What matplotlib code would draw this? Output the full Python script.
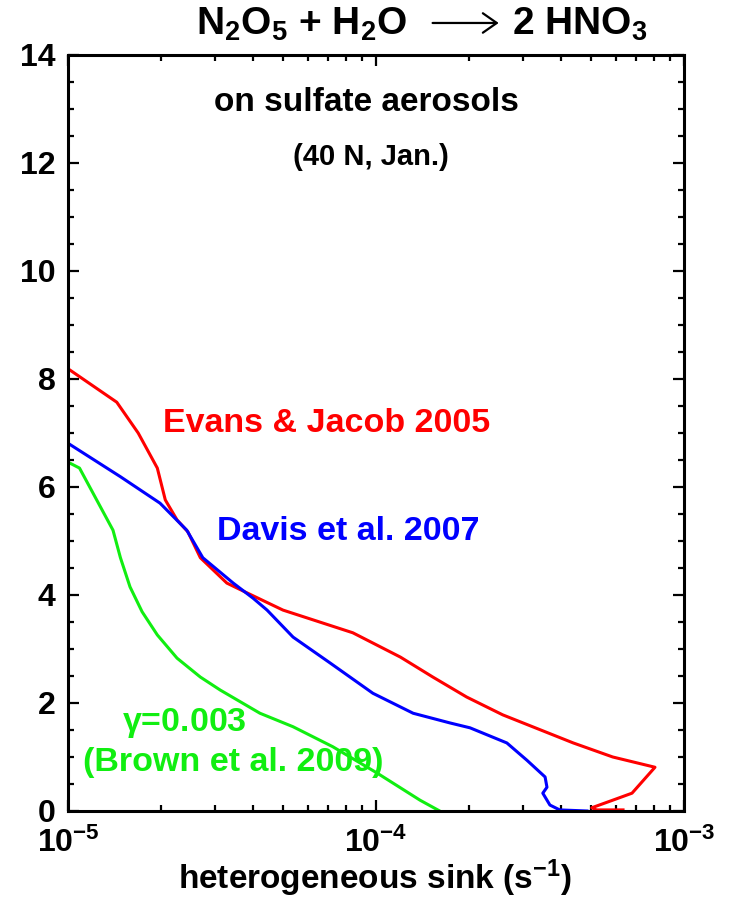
import matplotlib
matplotlib.use("Agg")
import matplotlib.pyplot as plt
from matplotlib.patches import FancyArrowPatch
from matplotlib.ticker import LogLocator, MultipleLocator, NullFormatter

plt.rcParams['font.family'] = ['Liberation Sans', 'DejaVu Sans']
plt.rcParams['font.weight'] = 'bold'
plt.rcParams['mathtext.fontset'] = 'custom'
plt.rcParams['mathtext.rm'] = 'Liberation Sans:bold'
plt.rcParams['mathtext.it'] = 'Liberation Sans:bold'
plt.rcParams['mathtext.bf'] = 'Liberation Sans:bold'

# heterogeneous sink (s-1) vs altitude (km)
evans_sink = [1.0e-5, 1.44e-5, 1.69e-5, 1.95e-5, 2.07e-5, 2.26e-5, 2.45e-5, 2.69e-5,
              3.28e-5, 3.81e-5, 4.99e-5, 8.41e-5, 1.20e-4, 1.53e-4, 1.97e-4, 2.58e-4,
              4.37e-4, 5.87e-4, 8.05e-4, 6.78e-4, 5.87e-4, 5.02e-4, 5.2e-4, 6.34e-4]
evans_alt = [8.19, 7.57, 7.00, 6.35, 5.76, 5.39, 5.17, 4.69,
             4.22, 4.04, 3.72, 3.30, 2.85, 2.48, 2.11, 1.78,
             1.26, 1.00, 0.81, 0.33, 0.20, 0.06, 0.02, 0.02]

davis_sink = [1.0e-5, 1.48e-5, 1.99e-5, 2.43e-5, 2.74e-5, 3.44e-5, 3.99e-5, 4.43e-5,
              5.38e-5, 7.10e-5, 9.77e-5, 1.32e-4, 1.74e-4, 2.02e-4, 2.66e-4, 3.09e-4,
              3.54e-4, 3.59e-4, 3.48e-4, 3.67e-4, 3.95e-4, 4.84e-4]
davis_alt = [6.81, 6.19, 5.70, 5.20, 4.69, 4.22, 3.94, 3.72,
             3.22, 2.74, 2.18, 1.81, 1.63, 1.54, 1.26, 0.94,
             0.63, 0.44, 0.33, 0.11, 0.02, 0.0]

brown_sink = [1.0e-5, 1.09e-5, 1.40e-5, 1.48e-5, 1.59e-5, 1.74e-5, 1.95e-5, 2.26e-5,
              2.69e-5, 3.12e-5, 4.20e-5, 5.38e-5, 7.24e-5, 1.01e-4, 1.39e-4, 1.61e-4]
brown_alt = [6.46, 6.35, 5.20, 4.69, 4.15, 3.69, 3.26, 2.83,
             2.48, 2.24, 1.81, 1.56, 1.19, 0.70, 0.20, 0.0]

xticks = [1e-5, 1e-4, 1e-3]
xticklabels = [r'$10^{-5}$', r'$10^{-4}$', r'$10^{-3}$']
yticks = [0, 2, 4, 6, 8, 10, 12, 14]

red = '#ff0000'
blue = '#0000ff'
green = '#11ee11'

fig = plt.figure(figsize=(7.31, 9.01), dpi=100)
ax = fig.add_axes([0.0930, 0.0999, 0.8427, 0.8391])

ax.plot(evans_sink, evans_alt, color=red, lw=2.2)
ax.plot(davis_sink, davis_alt, color=blue, lw=2.2)
ax.plot(brown_sink, brown_alt, color=green, lw=2.2)

ax.set_xscale('log')
ax.set_xlim(1e-5, 1e-3)
ax.set_ylim(0, 14)
ax.set_xticks(xticks)
ax.set_xticklabels(xticklabels)
ax.xaxis.set_minor_locator(LogLocator(base=10, subs=range(2, 10)))
ax.xaxis.set_minor_formatter(NullFormatter())
ax.set_yticks(yticks)
ax.yaxis.set_minor_locator(MultipleLocator(0.5))

for s in ax.spines.values():
    s.set_linewidth(2.2)
ax.tick_params(which='both', direction='in', top=True, right=True, width=1.6)
ax.tick_params(which='major', length=8, labelsize=23, pad=9)
ax.tick_params(which='minor', length=4)
ax.tick_params(axis='x', which='major', pad=12)

fig.text(0.513, 0.025, r'heterogeneous sink (s$^{-1}$)', ha='center', va='center',
         fontsize=24)

# reaction title: reactants, arrow, product
fig.text(0.557, 0.9612, r'N$_2$O$_5$ + H$_2$O', ha='right', va='baseline', fontsize=28)
fig.add_artist(FancyArrowPatch((0.588, 0.9745), (0.686, 0.9745),
                               transform=fig.transFigure, color='black', lw=1.6,
                               arrowstyle='->,head_length=10,head_width=7',
                               mutation_scale=1))
fig.text(0.700, 0.9612, r'2 HNO$_3$', ha='left', va='baseline', fontsize=28)

fig.text(0.501, 0.8857, 'on sulfate aerosols', ha='center', va='center', fontsize=24)
fig.text(0.508, 0.8257, '(40 N, Jan.)', ha='center', va='center', fontsize=21)

fig.text(0.223, 0.5305, 'Evans & Jacob 2005', color=red, ha='left', va='center',
         fontsize=24.5)
fig.text(0.297, 0.4097, 'Davis et al. 2007', color=blue, ha='left', va='center',
         fontsize=24.5)
fig.text(0.167, 0.1976, r'$\gamma$=0.003', color=green, ha='left', va='center',
         fontsize=24.5)
fig.text(0.1135, 0.1532, '(Brown et al. 2009)', color=green, ha='left', va='center',
         fontsize=24.5)

fig.savefig('out.png', dpi=100)
